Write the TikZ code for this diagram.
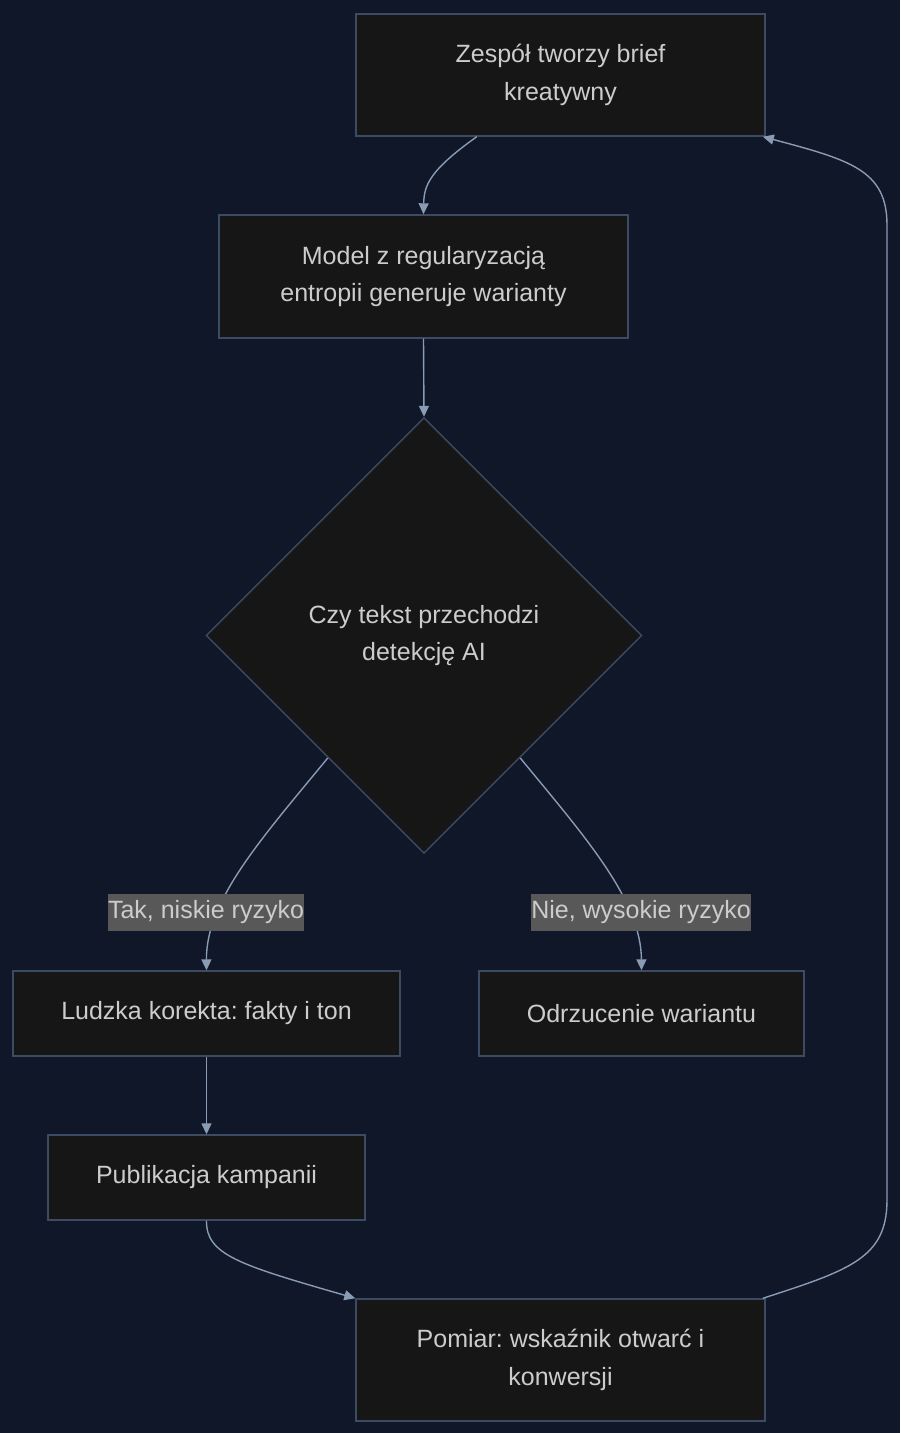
\documentclass[tikz,border=0pt]{standalone}
\usepackage{fontspec}
\setmainfont{Liberation Sans}
\usetikzlibrary{arrows.meta,shapes.geometric,calc}
\definecolor{bgc}{RGB}{15,23,41}
\definecolor{nodefill}{RGB}{22,22,22}
\definecolor{nodeline}{RGB}{60,74,98}
\definecolor{txt}{RGB}{204,204,204}
\definecolor{edgec}{RGB}{138,155,180}
\definecolor{lblfill}{RGB}{88,88,88}
\frenchspacing
\begin{document}
\begin{tikzpicture}[x=1pt,y=-1pt,
  box/.style={draw=nodeline, fill=nodefill, line width=1.4pt, inner sep=0pt, align=center,
    text=txt, font=\fontsize{25}{37.5}\selectfont},
  dec/.style={diamond, draw=nodeline, fill=nodefill, line width=1.4pt, inner sep=0pt, align=center,
    text=txt, font=\fontsize{25}{37.5}\selectfont, minimum width=436pt, minimum height=436pt},
  lbl/.style={fill=lblfill, inner xsep=0pt, inner ysep=0pt, minimum height=37pt, text=txt,
    font=\fontsize{25}{37.5}\selectfont},
  edge/.style={draw=edgec, line width=1.4pt},
  arr/.style={edge, -{Triangle[length=11pt,width=10pt]}}]
\fill[bgc] (0,0) rectangle (900,1433);
\useasboundingbox (0,0) rectangle (900,1433);

\node[box, minimum width=409pt, minimum height=122pt] (A) at (560.5,75) {Zespół tworzy brief\\kreatywny};
\node[box, minimum width=409pt, minimum height=123pt] (B) at (423.5,276.5) {Model z regularyzacją\\entropii generuje warianty};
\node[dec] (C) at (424,635.5) {Czy tekst przechodzi\\detekcję AI};
\node[box, minimum width=387pt, minimum height=85pt] (D) at (206.5,1013.5) {Ludzka korekta: fakty i ton};
\node[box, minimum width=325pt, minimum height=85pt] (E) at (641.5,1013.5) {Odrzucenie wariantu};
\node[box, minimum width=317pt, minimum height=85pt] (F) at (206.5,1177.5) {Publikacja kampanii};
\node[box, minimum width=409pt, minimum height=122pt] (G) at (560.5,1360) {Pomiar: wskaźnik otwarć i\\konwersji};

\coordinate (Aout) at ($(A.south west)!0.296!(A.south east)$);
\coordinate (Cl) at ($(C.west)!0.56!(C.south)$);
\coordinate (Cr) at ($(C.south)!0.44!(C.east)$);
\coordinate (Gout) at ($(G.north west)!0.993!(G.north east)$);
\coordinate (Ain) at ($(A.south west)!0.993!(A.south east)$);
\coordinate (Gin) at (G.north west);

\draw[arr] (Aout) .. controls (430,170) and (424,185) .. (B.north);
\draw[arr] (B.south) -- (C.north);
\draw[arr] (Cl) .. controls (262,838) and (206,900) .. (D.north);
\draw[arr] (Cr) .. controls (586,838) and (641,900) .. (E.north);
\draw[arr] (D.south) -- (F.north);
\draw[arr] (F.south) .. controls (206,1255) and (240,1265) .. (Gin);
\draw[arr] (Gout) .. controls (850,1270) and (887,1258) .. (887,1200) -- (887,225)
  .. controls (887,170) and (850,160) .. (Ain);

\node[lbl] (L1) at (206,912) {Tak, niskie ryzyko};
\node[lbl] (L2) at (641,912) {Nie, wysokie ryzyko};
\end{tikzpicture}
\end{document}
